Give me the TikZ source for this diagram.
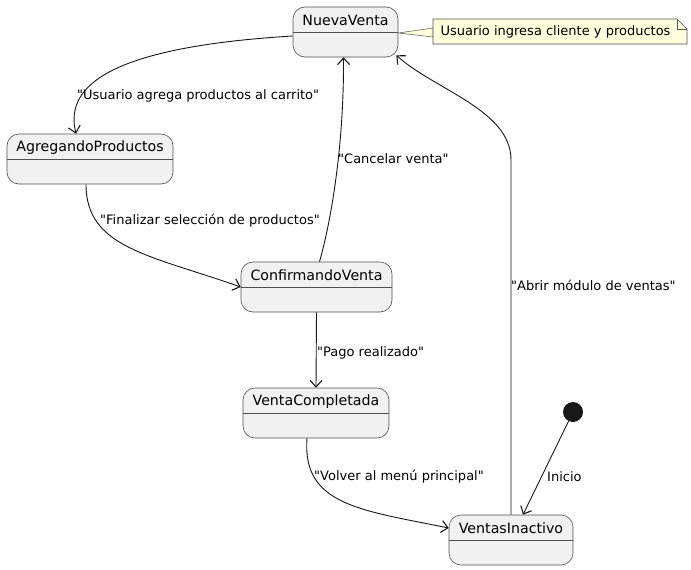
\documentclass[tikz,border=0pt]{standalone}
\usepackage{fontspec}
\setmainfont{DejaVu Sans}[Ligatures=TeXOff]
\usetikzlibrary{arrows.meta,calc}
\definecolor{statefill}{HTML}{F1F1F1}
\definecolor{statedraw}{HTML}{505050}
\definecolor{edgec}{HTML}{181818}
\definecolor{notefill}{HTML}{FEFFDD}
\tikzset{
  x=1pt,y=-1pt,
  statebox/.style={draw=statedraw,fill=statefill,rounded corners=12pt,line width=0.6pt,minimum height=50pt,inner sep=0pt},
  statename/.style={font=\fontsize{14.2}{16}\selectfont,inner sep=0pt},
  elabel/.style={font=\fontsize{13}{15}\selectfont,anchor=west,inner sep=0pt},
  trans/.style={draw=edgec,line width=0.9pt,-{Straight Barb[length=6.5pt,width=12pt,line width=1.1pt]}},
}
\begin{document}
\begin{tikzpicture}
\useasboundingbox[fill=white] (0,0) rectangle (691,570);
% states
\node[statebox,minimum width=105pt] (nv) at (345.5,32) {};
\node[statebox,minimum width=166pt] (ap) at (90,159) {};
\node[statebox,minimum width=151pt] (cv) at (316.5,287) {};
\node[statebox,minimum width=146pt] (vc) at (316,413) {};
\node[statebox,minimum width=124pt] (vi) at (511,540) {};
\foreach \n/\t in {nv/NuevaVenta,ap/AgregandoProductos,cv/ConfirmandoVenta,vc/VentaCompletada,vi/VentasInactivo}{
  \draw[statedraw,line width=0.6pt] ($(\n.north west)+(0,26)$) -- ($(\n.north east)+(0,26)$);
  \node[statename] (\n-name) at ($(\n.north)+(0,13.5)$) {\t};
}
% initial state
\node[circle,fill=edgec,minimum size=20pt,inner sep=0pt] (init) at (573,412) {};
% note
\coordinate (nA) at (433,19);
\coordinate (nB) at (677,19);
\coordinate (nC) at (687,29);
\coordinate (nD) at (687,44);
\coordinate (nE) at (433,44);
\draw[statedraw,line width=0.5pt,fill=notefill] ($(nv.east)+(0,1)$) -- (433,28) -- (433,37) -- cycle;
\draw[statedraw,line width=0.6pt,fill=notefill] (nA) -- (nB) -- (nC) -- (nD) -- (nE) -- cycle;
\draw[statedraw,line width=0.6pt] (nB) -- (677,29) -- (nC);
\node[font=\fontsize{13}{15}\selectfont,inner sep=0pt] (note) at (555.5,32) {Usuario ingresa cliente y productos};
% transitions
\draw[trans] ($(nv.west)+(0,4)$) .. controls (95,48) and (66,92) .. ($(ap.north)+(-14,0)$);
\draw[trans] ($(ap.south)+(-4,0)$) .. controls (86,248) and (150,255) .. (cv.west);
\draw[trans] ($(cv.north)+(3,0)$) .. controls (330,225) and (344,150) .. ($(nv.south)+(-2,0)$);
\draw[trans] (cv.south) -- (vc.north);
\draw[trans] ($(vc.south)+(-9,0)$) .. controls (302,505) and (360,510) .. ($(vi.west)+(0,-12)$);
\draw[trans] (init) -- ($(vi.north)+(12,0)$);
\draw[trans] (vi.north) -- (511,160) .. controls (511,110) and (435,90) .. ($(nv.south east)+(-2,-2)$);
% labels
\node[elabel] (l1) at (77,96) {"Usuario agrega productos al carrito"};
\node[elabel] (l2) at (100,221) {"Finalizar selección de productos"};
\node[elabel] (l3) at (338,159) {"Cancelar venta"};
\node[elabel] (l4) at (317,353) {"Pago realizado"};
\node[elabel] (l5) at (314,477) {"Volver al menú principal"};
\node[elabel] (l6) at (547,477) {Inicio};
\node[elabel] (l7) at (511,285) {"Abrir módulo de ventas"};
\end{tikzpicture}
\end{document}
